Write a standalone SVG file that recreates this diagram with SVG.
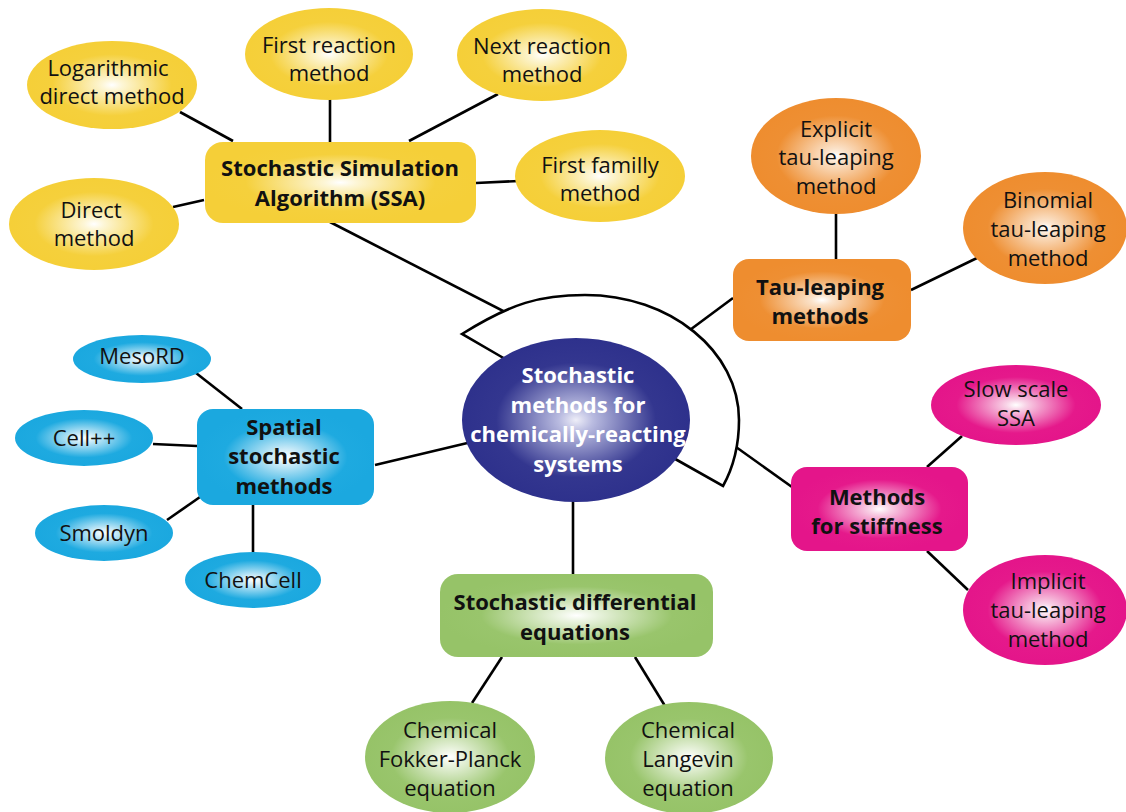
<svg xmlns="http://www.w3.org/2000/svg" width="1126" height="812" viewBox="0 0 1126 812">
<defs>
<radialGradient id="gY"><stop offset="0" stop-color="#ffffff"/><stop offset="0.12" stop-color="#fdf6d6"/><stop offset="0.7" stop-color="#f5d03c"/><stop offset="1" stop-color="#f5cf38"/></radialGradient>
<radialGradient id="gO"><stop offset="0" stop-color="#ffffff"/><stop offset="0.12" stop-color="#fbe3cb"/><stop offset="0.7" stop-color="#ee8f33"/><stop offset="1" stop-color="#ee8d2f"/></radialGradient>
<radialGradient id="gB"><stop offset="0" stop-color="#ffffff"/><stop offset="0.12" stop-color="#d9f0fa"/><stop offset="0.7" stop-color="#1eaae0"/><stop offset="1" stop-color="#1ba8df"/></radialGradient>
<radialGradient id="gP"><stop offset="0" stop-color="#ffffff"/><stop offset="0.12" stop-color="#f8d2e6"/><stop offset="0.7" stop-color="#e5198b"/><stop offset="1" stop-color="#e4158a"/></radialGradient>
<radialGradient id="gG"><stop offset="0" stop-color="#ffffff"/><stop offset="0.12" stop-color="#edf5e4"/><stop offset="0.7" stop-color="#99c56c"/><stop offset="1" stop-color="#96c368"/></radialGradient>
<radialGradient id="gN"><stop offset="0" stop-color="#eeeef8"/><stop offset="0.15" stop-color="#b9bbe0"/><stop offset="0.7" stop-color="#33368f"/><stop offset="1" stop-color="#2e318c"/></radialGradient>
</defs>
<style>
.ln{stroke:#000;stroke-width:2.6;fill:none}
.t{font-family:"Open Sans","Liberation Sans",sans-serif;font-size:22px;fill:#111;text-anchor:middle}
.b{font-family:"Open Sans","Liberation Sans",sans-serif;font-size:22px;font-weight:bold;fill:#111;text-anchor:middle}
.w{fill:#fff}
</style>
<g id="connectors">
<line class="ln" x1="180" y1="112" x2="233" y2="141"/>
<line class="ln" x1="330" y1="99" x2="330" y2="142"/>
<line class="ln" x1="498" y1="94" x2="409" y2="141"/>
<line class="ln" x1="519" y1="181" x2="476" y2="183"/>
<line class="ln" x1="173" y1="207" x2="204" y2="200"/>
<line class="ln" x1="330" y1="222" x2="540" y2="330"/>
<line class="ln" x1="836" y1="213" x2="836" y2="259"/>
<line class="ln" x1="977" y1="258" x2="911" y2="290"/>
<line class="ln" x1="733" y1="298" x2="640" y2="367"/>
<line class="ln" x1="196" y1="373" x2="242" y2="409"/>
<line class="ln" x1="153" y1="444" x2="197" y2="446"/>
<line class="ln" x1="167" y1="520" x2="200" y2="497"/>
<line class="ln" x1="253" y1="505" x2="253" y2="553"/>
<line class="ln" x1="375" y1="465" x2="480" y2="440"/>
<line class="ln" x1="962" y1="436" x2="927" y2="467"/>
<line class="ln" x1="927" y1="551" x2="968" y2="590"/>
<line class="ln" x1="680" y1="407" x2="792" y2="487"/>
<line class="ln" x1="573" y1="490" x2="573" y2="574"/>
<line class="ln" x1="502" y1="657" x2="472" y2="703"/>
<line class="ln" x1="635" y1="657" x2="665" y2="706"/>
</g>
<g id="band">
<path d="M462,334 C512,303 540,295 585,295 C670,295 739,351 739,420 C739,445 733,468 723,486 L677,460 L500,356 Z" fill="#fff" stroke="#000" stroke-width="2.6" stroke-linejoin="miter"/>
</g>
<g id="center">
<ellipse cx="576" cy="420" rx="114" ry="82" fill="url(#gN)"/>
<text class="b w" x="578" y="383">Stochastic</text>
<text class="b w" x="578" y="413">methods for</text>
<text class="b w" x="578" y="442">chemically-reacting</text>
<text class="b w" x="578" y="472">systems</text>
</g>
<g id="ssa">
<rect x="205" y="142" width="271" height="81" rx="18" fill="url(#gY)"/>
<text class="b" x="340" y="176">Stochastic Simulation</text>
<text class="b" x="340" y="206">Algorithm (SSA)</text>
</g>
<g id="log-direct">
<ellipse cx="112" cy="85" rx="85" ry="44" fill="url(#gY)"/>
<text class="t" x="108" y="76">Logarithmic</text>
<text class="t" x="112" y="104">direct method</text>
</g>
<g id="first-reaction">
<ellipse cx="329" cy="54" rx="84" ry="46" fill="url(#gY)"/>
<text class="t" x="329" y="53">First reaction</text>
<text class="t" x="329" y="81">method</text>
</g>
<g id="next-reaction">
<ellipse cx="542" cy="55" rx="85" ry="46" fill="url(#gY)"/>
<text class="t" x="542" y="54">Next reaction</text>
<text class="t" x="542" y="82">method</text>
</g>
<g id="first-family">
<ellipse cx="600" cy="176" rx="85" ry="46" fill="url(#gY)"/>
<text class="t" x="600" y="173">First familly</text>
<text class="t" x="600" y="201">method</text>
</g>
<g id="direct">
<ellipse cx="94" cy="224" rx="85" ry="46" fill="url(#gY)"/>
<text class="t" x="91" y="218">Direct</text>
<text class="t" x="94" y="246">method</text>
</g>
<g id="tau">
<rect x="733" y="259" width="178" height="82" rx="16" fill="url(#gO)"/>
<text class="b" x="820" y="295">Tau-leaping</text>
<text class="b" x="820" y="324">methods</text>
</g>
<g id="explicit">
<ellipse cx="836" cy="156" rx="85" ry="58" fill="url(#gO)"/>
<text class="t" x="836" y="137">Explicit</text>
<text class="t" x="836" y="165">tau-leaping</text>
<text class="t" x="836" y="194">method</text>
</g>
<g id="binomial">
<ellipse cx="1045" cy="228" rx="82" ry="56" fill="url(#gO)"/>
<text class="t" x="1048" y="208">Binomial</text>
<text class="t" x="1048" y="237">tau-leaping</text>
<text class="t" x="1048" y="266">method</text>
</g>
<g id="spatial">
<rect x="197" y="409" width="177" height="96" rx="16" fill="url(#gB)"/>
<text class="b" x="284" y="435">Spatial</text>
<text class="b" x="284" y="464">stochastic</text>
<text class="b" x="284" y="494">methods</text>
</g>
<g id="mesord">
<ellipse cx="142" cy="359" rx="69" ry="24" fill="url(#gB)"/>
<text class="t" x="142" y="364">MesoRD</text>
</g>
<g id="cellpp">
<ellipse cx="84" cy="438" rx="69" ry="28" fill="url(#gB)"/>
<text class="t" x="84" y="446">Cell++</text>
</g>
<g id="smoldyn">
<ellipse cx="104" cy="533" rx="69" ry="28" fill="url(#gB)"/>
<text class="t" x="104" y="541">Smoldyn</text>
</g>
<g id="chemcell">
<ellipse cx="253" cy="580" rx="68" ry="28" fill="url(#gB)"/>
<text class="t" x="253" y="588">ChemCell</text>
</g>
<g id="stiffness">
<rect x="791" y="467" width="177" height="84" rx="16" fill="url(#gP)"/>
<text class="b" x="877" y="505">Methods</text>
<text class="b" x="877" y="534">for stiffness</text>
</g>
<g id="slow-scale">
<ellipse cx="1016" cy="405" rx="85" ry="40" fill="url(#gP)"/>
<text class="t" x="1016" y="397">Slow scale</text>
<text class="t" x="1016" y="426">SSA</text>
</g>
<g id="implicit">
<ellipse cx="1045" cy="610" rx="82" ry="55" fill="url(#gP)"/>
<text class="t" x="1048" y="589">Implicit</text>
<text class="t" x="1048" y="618">tau-leaping</text>
<text class="t" x="1048" y="647">method</text>
</g>
<g id="sde">
<rect x="440" y="574" width="273" height="83" rx="18" fill="url(#gG)"/>
<text class="b" x="575" y="610">Stochastic differential</text>
<text class="b" x="575" y="640">equations</text>
</g>
<g id="fokker-planck">
<ellipse cx="450" cy="757" rx="85" ry="56" fill="url(#gG)"/>
<text class="t" x="450" y="738">Chemical</text>
<text class="t" x="450" y="767">Fokker-Planck</text>
<text class="t" x="450" y="796">equation</text>
</g>
<g id="langevin">
<ellipse cx="689" cy="758" rx="84" ry="56" fill="url(#gG)"/>
<text class="t" x="688" y="738">Chemical</text>
<text class="t" x="688" y="767">Langevin</text>
<text class="t" x="688" y="796">equation</text>
</g>
</svg>
